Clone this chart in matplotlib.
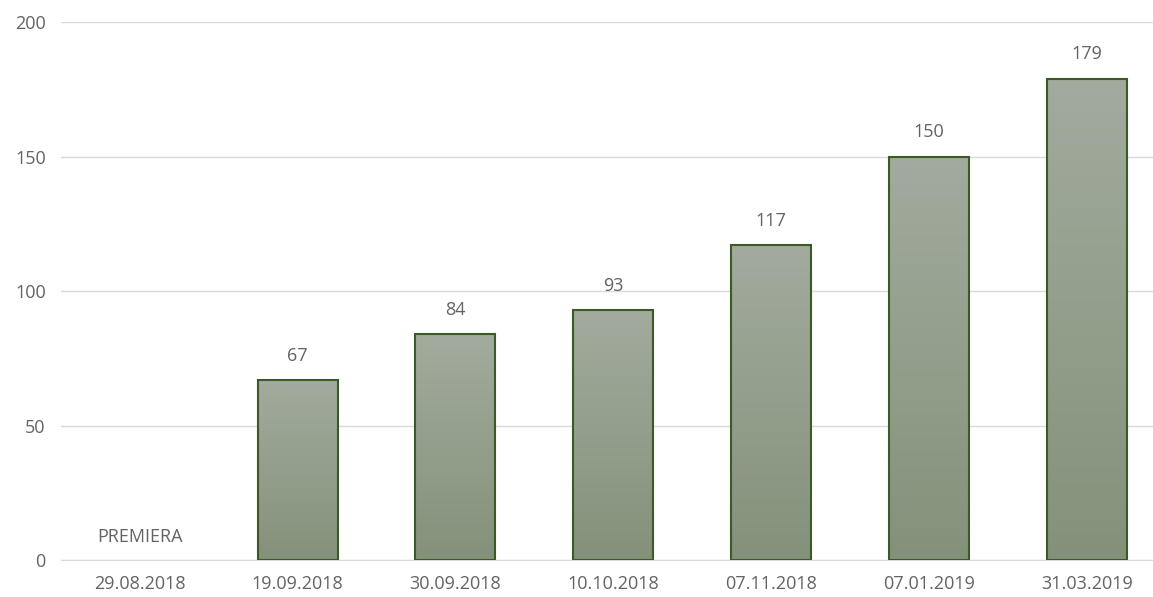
import numpy as np
import matplotlib.pyplot as plt
from matplotlib.colors import LinearSegmentedColormap

# Datos
fechas = ['29.08.2018', '19.09.2018', '30.09.2018', '10.10.2018',
          '07.11.2018', '07.01.2019', '31.03.2019']
valores = [0, 67, 84, 93, 117, 150, 179]
etiquetas = ['PREMIERA', '67', '84', '93', '117', '150', '179']

plt.rcParams['font.family'] = ['Open Sans', 'DejaVu Sans']
textColor = '#636363'

fig = plt.figure(figsize=(11.53, 5.97), dpi=100)
# el area del grafico se sale un poco por la derecha, como en el original
ax = fig.add_axes([0.0529, 0.062, 0.958, 0.901])

x = np.arange(len(fechas))
anchoBarra = 0.507
cmap = LinearSegmentedColormap.from_list('verde', ['#84917a', '#a2ab9e'])
gradiente = np.linspace(0, 1, 256).reshape(-1, 1)

bars = ax.bar(x, valores, width=anchoBarra, facecolor='none',
              edgecolor='#3b5a26', linewidth=1.5, zorder=3)

# Relleno en degradado para cada barra
for bar in bars:
    h = bar.get_height()
    if h <= 0:
        bar.set_linewidth(0)
        continue
    x0 = bar.get_x()
    img = ax.imshow(gradiente, extent=[x0, x0 + bar.get_width(), 0, h],
                    origin='lower', cmap=cmap, aspect='auto', zorder=2)
    img.set_clip_path(bar)

# Etiquetas de valores
for xi, v, lab in zip(x, valores, etiquetas):
    offset = 9.0 if v > 0 else 8.5
    ax.text(xi, v + offset, lab, ha='center', va='center',
            fontsize=13, color=textColor)

ax.set_xlim(-0.5, len(fechas) - 0.5)
ax.set_ylim(0, 200)
ax.set_yticks([0, 50, 100, 150, 200])
ax.set_xticks(x)
ax.set_xticklabels(fechas)
ax.yaxis.grid(True, color='#d9d9d9', linewidth=1, zorder=0)
ax.set_axisbelow(True)
for s in ['top', 'right', 'left']:
    ax.spines[s].set_visible(False)
ax.spines['bottom'].set_color('#d9d9d9')
ax.tick_params(axis='both', length=0, labelsize=13, labelcolor=textColor)
ax.tick_params(axis='y', pad=11)
ax.tick_params(axis='x', pad=11)

plt.savefig('out.png', dpi=100)
plt.close()
